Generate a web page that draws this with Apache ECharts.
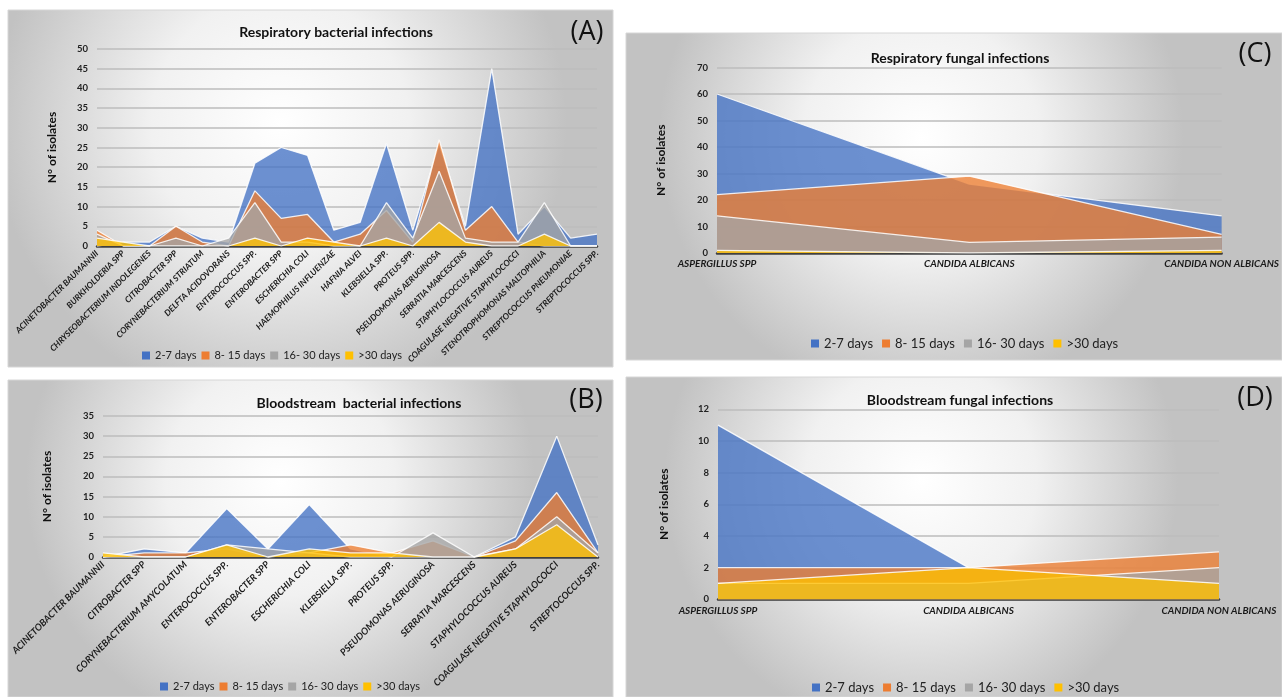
<!DOCTYPE html>
<html>
<head>
<meta charset="utf-8">
<script src="https://cdn.jsdelivr.net/npm/echarts@6/dist/echarts.min.js"></script>
<style>
  html, body { margin: 0; padding: 0; background: #ffffff; }
  #chart { width: 1282px; height: 697px; }
</style>
</head>
<body>
<div id="chart"></div>
<script>
// ---- Data -------------------------------------------------------------
const seriesNames = ['2-7 days', '8- 15 days', '16- 30 days', '>30 days'];

// (A) Respiratory bacterial infections
const respBactCategories = [
  'ACINETOBACTER BAUMANNII', 'BURKHOLDERIA SPP', 'CHRYSEOBACTERIUM INDOLEGENES',
  'CITROBACTER SPP', 'CORYNEBACTERIUM STRIATUM', 'DELFTA ACIDOVORANS',
  'ENTEROCOCCUS SPP.', 'ENTEROBACTER SPP', 'ESCHERICHIA COLI',
  'HAEMOPHILUS INFLUENZAE', 'HAFNIA ALVEI', 'KLEBSIELLA SPP.', 'PROTEUS SPP.',
  'PSEUDOMONAS AERUGINOSA', 'SERRATIA MARCESCENS', 'STAPHYLOCOCCUS AUREUS',
  'COAGULASE NEGATIVE STAPHYLOCOCCI', 'STENOTROPHOMONAS MALTOPHILIA',
  'STREPTOCOCCUS PNEUMONIAE', 'STREPTOCOCCUS SPP.'
];
const respBact2to7   = [0, 1, 1, 5, 2, 1, 21, 25, 23, 4, 6, 26, 4, 26, 5, 45, 3, 10, 2, 3];
const respBact8to15  = [4, 0, 0, 5, 1, 0, 14, 7, 8, 1, 3, 9, 1, 27, 4, 10, 1, 0, 0, 0];
const respBact16to30 = [3, 0, 0, 2, 0, 2, 11, 1, 1, 0, 0, 11, 2, 19, 2, 1, 1, 11, 0, 0];
const respBactOver30 = [2, 1, 0, 0, 0, 0, 2, 0, 2, 1, 0, 2, 0, 6, 1, 0, 0, 3, 0, 0];

// (B) Bloodstream bacterial infections
const bloodBactCategories = [
  'ACINETOBACTER BAUMANNII', 'CITROBACTER SPP', 'CORYNEBACTERIUM AMYCOLATUM',
  'ENTEROCOCCUS SPP.', 'ENTEROBACTER SPP', 'ESCHERICHIA COLI', 'KLEBSIELLA SPP.',
  'PROTEUS SPP.', 'PSEUDOMONAS AERUGINOSA', 'SERRATIA MARCESCENS',
  'STAPHYLOCOCCUS AUREUS', 'COAGULASE NEGATIVE STAPHYLOCOCCI', 'STREPTOCOCCUS SPP.'
];
const bloodBact2to7   = [0, 2, 1, 12, 2, 13, 2, 0, 0, 0, 5, 30, 3];
const bloodBact8to15  = [0, 1, 1, 2, 0, 1, 3, 1, 4, 0, 4, 16, 1];
const bloodBact16to30 = [0, 0, 0, 3, 2, 1, 0, 0, 6, 0, 2, 10, 1];
const bloodBactOver30 = [1, 0, 0, 3, 0, 2, 1, 1, 0, 0, 2, 8, 0];

// (C) Respiratory fungal infections
const fungalCategories = ['ASPERGILLUS SPP', 'CANDIDA ALBICANS', 'CANDIDA NON ALBICANS'];
const respFung2to7   = [60, 26, 14];
const respFung8to15  = [22, 29, 7];
const respFung16to30 = [14, 4, 6];
const respFungOver30 = [1, 0, 1];

// (D) Bloodstream fungal infections
const bloodFung2to7   = [11, 2, 1];
const bloodFung8to15  = [2, 2, 3];
const bloodFung16to30 = [1, 1, 2];
const bloodFungOver30 = [1, 2, 1];

// Y axis tick settings per panel
const respBactTicks  = { max: 50, interval: 5 };
const bloodBactTicks = { max: 35, interval: 5 };
const respFungTicks  = { max: 70, interval: 10 };
const bloodFungTicks = { max: 12, interval: 2 };

// ---- Styling ----------------------------------------------------------
const colors = ['#4472C4', '#ED7D31', '#A5A5A5', '#FFC000'];
const fontFamily = 'Lato, "Open Sans", sans-serif';

const panels = [
  { key: 'A', title: 'Respiratory bacterial infections', box: [8, 10, 605, 357],
    grid: { left: 97, top: 49, width: 500, height: 197 },
    cats: respBactCategories, data: [respBact2to7, respBact8to15, respBact16to30, respBactOver30],
    ticks: respBactTicks, rotate: 45, labelSize: 8.5, titleX: 331, titleY: 20,
    legendX: 137, legendY: 345, legendFont: 11, legendGap: 5,
    nameX: 52, tag: [587, 32] },
  { key: 'B', title: 'Bloodstream  bacterial infections', box: [8, 380, 605, 317],
    grid: { left: 103, top: 416, width: 495, height: 141 },
    cats: bloodBactCategories, data: [bloodBact2to7, bloodBact8to15, bloodBact16to30, bloodBactOver30],
    ticks: bloodBactTicks, rotate: 45, labelSize: 9.5, titleX: 354, titleY: 391,
    legendX: 155, legendY: 676, legendFont: 11, legendGap: 5,
    nameX: 47, tag: [586, 400] },
  { key: 'C', title: 'Respiratory fungal infections', box: [626, 33, 656, 327],
    grid: { left: 717, top: 67.5, width: 505, height: 185.5 },
    cats: fungalCategories, data: [respFung2to7, respFung8to15, respFung16to30, respFungOver30],
    ticks: respFungTicks, rotate: 0, labelSize: 10, titleX: 955, titleY: 46,
    legendX: 806, legendY: 332, legendFont: 13, legendGap: 9,
    nameX: 661, tag: [1255, 54] },
  { key: 'D', title: 'Bloodstream fungal infections', box: [626, 377, 656, 320],
    grid: { left: 718, top: 409.3, width: 501, height: 190 },
    cats: fungalCategories, data: [bloodFung2to7, bloodFung8to15, bloodFung16to30, bloodFungOver30],
    ticks: bloodFungTicks, rotate: 0, labelSize: 10, titleX: 955, titleY: 388,
    legendX: 807, legendY: 676, legendFont: 13, legendGap: 9,
    nameX: 664, tag: [1255, 398] }
];

const option = {
  animation: false,
  backgroundColor: '#ffffff',
  textStyle: { fontFamily },
  title: [], legend: [], grid: [], xAxis: [], yAxis: [], series: [], graphic: []
};

panels.forEach((p, i) => {
  const [bx, by, bw, bh] = p.box;
  // panel background with soft radial shading
  option.graphic.push({
    type: 'rect', z: -10, silent: true,
    shape: { x: bx, y: by, width: bw, height: bh },
    style: {
      fill: new echarts.graphic.RadialGradient(0.45, 0.32, 0.8, [
        { offset: 0, color: '#ffffff' },
        { offset: 0.45, color: '#f1f1f1' },
        { offset: 1, color: '#c2c2c2' }
      ]),
      stroke: '#d6d6d6', lineWidth: 1
    }
  });
  // panel tag (A)..(D)
  option.graphic.push({
    type: 'text', z: 10, silent: true,
    x: p.tag[0], y: p.tag[1],
    style: { text: '(' + p.key + ')', font: '27px "Open Sans", sans-serif', fill: '#111',
             align: 'center', verticalAlign: 'middle' }
  });
  // y axis name
  option.graphic.push({
    type: 'text', z: 10, silent: true,
    x: p.nameX, y: p.grid.top + p.grid.height / 2, rotation: Math.PI / 2,
    style: { text: 'N° of isolates', font: 'bold 12px ' + fontFamily, fill: '#111',
             align: 'center', verticalAlign: 'middle' }
  });

  option.title.push({
    text: p.title, left: p.titleX, top: p.titleY, textAlign: 'center',
    textStyle: { fontSize: 14, fontWeight: 'bold', color: '#111', fontFamily }
  });

  option.legend.push({
    data: seriesNames, top: p.legendY, left: p.legendX,
    icon: 'rect', itemWidth: 8, itemHeight: 8, itemGap: p.legendGap,
    textStyle: { fontSize: p.legendFont, color: '#222', fontFamily }
  });

  option.grid.push(Object.assign({ containLabel: false }, p.grid));

  option.xAxis.push({
    type: 'category', gridIndex: i, data: p.cats, boundaryGap: false,
    axisLine: { lineStyle: { color: '#404040', width: 2.5 } },
    axisTick: { show: false },
    axisLabel: {
      interval: 0, rotate: p.rotate, margin: 6, hideOverlap: false,
      fontSize: p.labelSize, fontStyle: 'italic', fontWeight: 'bold', color: '#1a1a1a', fontFamily
    }
  });

  option.yAxis.push({
    type: 'value', gridIndex: i, min: 0, max: p.ticks.max, interval: p.ticks.interval,
    axisLine: { show: false }, axisTick: { show: false },
    axisLabel: { fontSize: 9.5, fontWeight: 'bold', color: '#222', margin: 9, fontFamily },
    splitLine: { lineStyle: { color: '#bdbdbd', width: 1.5 } }
  });

  p.data.forEach((vals, s) => {
    option.series.push({
      name: seriesNames[s], type: 'line', xAxisIndex: i, yAxisIndex: i,
      data: vals, symbol: 'none', z: 2 + s,
      lineStyle: { color: 'rgba(255,255,255,0.85)', width: 1.3 },
      itemStyle: { color: colors[s] },
      areaStyle: { color: colors[s], opacity: 0.78 },
      emphasis: { disabled: true }
    });
  });
});

const chart = echarts.init(document.getElementById('chart'), null, { renderer: 'canvas' });
chart.setOption(option);
</script>
</body>
</html>
